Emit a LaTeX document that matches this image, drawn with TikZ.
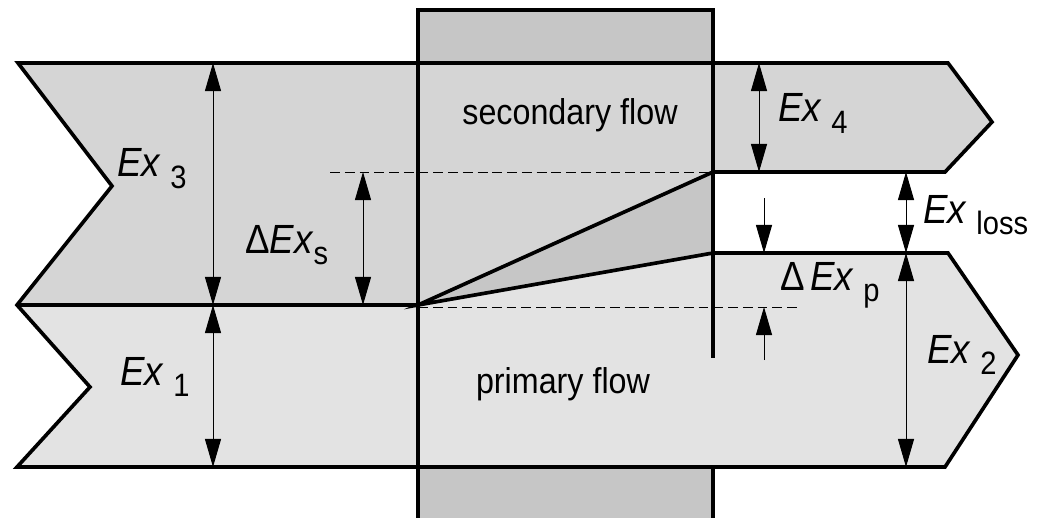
\documentclass[tikz,border=0pt]{standalone}
\usepackage{graphicx}
\usepackage{fontspec}
\setmainfont{Liberation Sans}
\usetikzlibrary{calc}
\usetikzlibrary{arrows.meta}

\definecolor{secfill}{HTML}{D5D5D5}
\definecolor{primfill}{HTML}{E3E3E3}
\definecolor{lossfill}{HTML}{C6C6C6}
\newcommand{\subq}[1]{\raisebox{-8pt}{\fontsize{23}{25}\selectfont #1}}
\newcommand{\exq}[1]{\scalebox{.9}[1]{\textit{Ex}\hspace{.25em}\subq{#1}}}

\tikzset{
  edge/.style={line width=2.6pt, line join=miter},
  dim/.style={line width=.7pt, {Triangle[length=7mm,width=4mm]}-{Triangle[length=7mm,width=4mm]}},
  dimin/.style={line width=.7pt, -{Triangle[length=7mm,width=4mm]}},
  guide/.style={line width=.6pt, dash pattern=on 7pt off 3.5pt},
  lbl/.style={anchor=base west, inner sep=0pt, font=\fontsize{29}{33}\selectfont},
  flowtext/.style={anchor=base, inner sep=0pt, font=\fontsize{25.5}{30}\selectfont}
}

\begin{document}
\begin{tikzpicture}[x=0.025cm, y=-0.025cm]
\useasboundingbox (0,0) rectangle (1043,518);

\fill[lossfill] (418,10) rectangle (713,63);
\fill[lossfill] (418,467) rectangle (713,518);
\fill[secfill] (18,63) -- (112,186) -- (17,305) -- (418,305) -- (713,172) -- (945,172) -- (992,122) -- (948,63) -- cycle;
\fill[primfill] (17,305) -- (90,387) -- (17,467) -- (945,467) -- (1018,355) -- (948,253) -- (713,253) -- (418,305) -- cycle;
\fill[lossfill] (418,305) -- (713,172) -- (713,253) -- cycle;

\draw[edge] (18,63) -- (948,63) -- (992,122) -- (945,172) -- (713,172) -- (418,305) -- (713,253) -- (948,253) -- (1018,355) -- (945,467) -- (17,467) -- (90,387) -- (17,305) -- (112,186) -- cycle;
\draw[edge] (17,305) -- (418,305);
\draw[edge] (418,518) -- (418,10) -- (713,10) -- (713,358);
\draw[edge] (713,467) -- (713,518);

\draw[guide] (330,172) -- (713,172);
\draw[guide] (418,307) -- (800,307);

\coordinate (s3t) at (213,63);
\coordinate (s3b) at (213,305);
\coordinate (p1b) at (213,467);
\draw[dim] (s3t) -- (s3b);
\draw[dim] (s3b) -- (p1b);

\coordinate (dst) at (363,172);
\coordinate (dsb) at (363,305);
\draw[dim] (dst) -- (dsb);

\coordinate (s4t) at (759,63);
\coordinate (s4b) at (759,172);
\draw[dim] (s4t) -- (s4b);

\coordinate (lt) at (906,172);
\coordinate (lb) at (906,253);
\coordinate (p2b) at (906,467);
\draw[dim] (lt) -- (lb);
\draw[dim] (lb) -- (p2b);

\coordinate (dpt) at (764,253);
\coordinate (dpb) at (764,307);
\draw[dimin] (dpt)++(0,-55) -- (dpt);
\draw[dimin] (dpb)++(0,53) -- (dpb);

\node[lbl] (ex3) at (117,177) {\exq{3}};
\node[lbl] (ex1) at (120,385) {\exq{1}};
\node[lbl] (dexs) at (245,253) {\scalebox{.9}[1]{Δ\textit{Ex}\subq{s}}};
\node[lbl] (ex4) at (778,122) {\exq{4}};
\node[lbl] (exl) at (923,223) {\exq{loss}};
\node[lbl] (ex2) at (927,363) {\exq{2}};
\node[lbl] (dexp) at (780,290) {\scalebox{.9}[1]{Δ\hspace{.15em}}\exq{p}};
\node[flowtext] (sec) at (570,125) {\scalebox{.9}[1]{secondary flow}};
\node[flowtext] (prim) at (563,393) {\scalebox{.9}[1]{primary flow}};
\end{tikzpicture}
\end{document}
